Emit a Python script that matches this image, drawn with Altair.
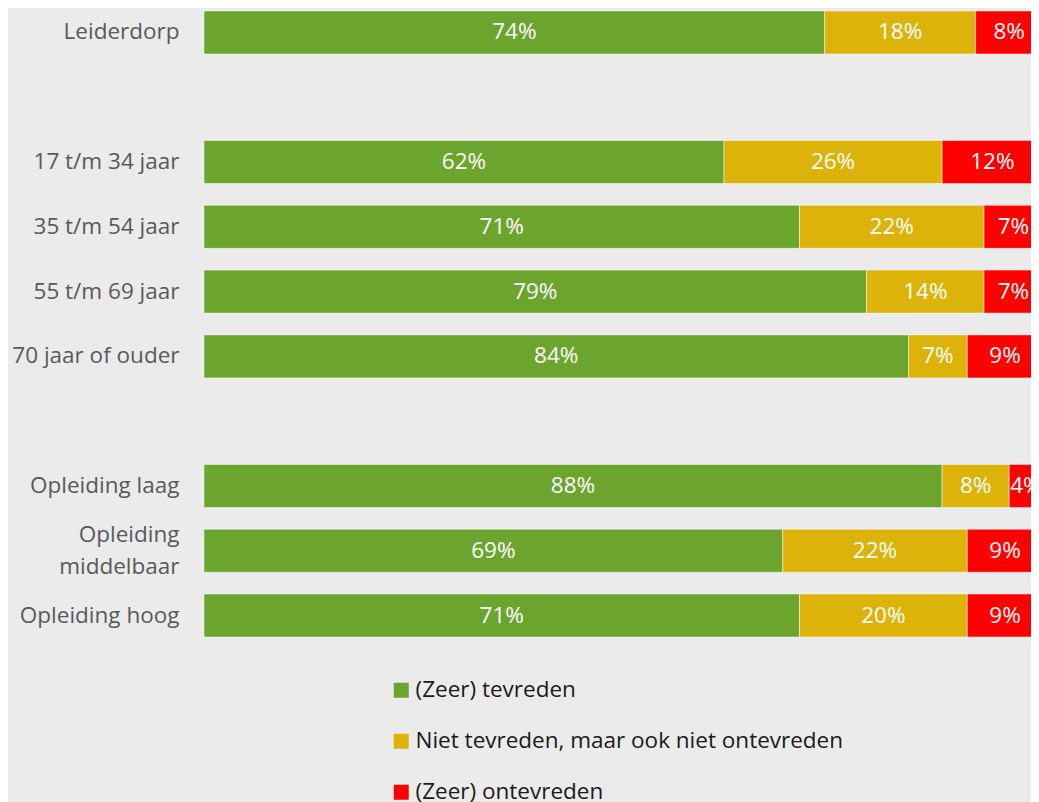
import altair as alt
import pandas as pd

groups = ["Leiderdorp", "17 t/m 34 jaar", "35 t/m 54 jaar", "55 t/m 69 jaar",
          "70 jaar of ouder", "Opleiding laag", "Opleiding middelbaar", "Opleiding hoog"]
row_order = ["Leiderdorp", " ", "17 t/m 34 jaar", "35 t/m 54 jaar", "55 t/m 69 jaar",
             "70 jaar of ouder", "  ", "Opleiding laag", "Opleiding middelbaar", "Opleiding hoog"]
series = ["(Zeer) tevreden", "Niet tevreden, maar ook niet ontevreden", "(Zeer) ontevreden"]
tevreden = [74, 62, 71, 79, 84, 88, 69, 71]
neutraal = [18, 26, 22, 14, 7, 8, 22, 20]
ontevreden = [8, 12, 7, 7, 9, 4, 9, 9]
colors = ["#6BA52D", "#DDB30A", "#FF0000"]

rows = []
for i, g in enumerate(groups):
    for k, (s, vals) in enumerate(zip(series, [tevreden, neutraal, ontevreden])):
        rows.append({"groep": g, "serie": s, "volgorde": k, "waarde": vals[i]})
df = pd.DataFrame(rows)

FONT = "Open Sans"
FS = 22.5

base = alt.Chart(df).transform_stack(
    stack="waarde", as_=["x0", "x1"], groupby=["groep"],
    sort=[alt.SortField("volgorde", order="ascending")]
).transform_calculate(
    mid="(datum.x0 + datum.x1) / 2",
    label="datum.waarde + '%'"
)

xscale = alt.Scale(domain=[0, 98.6], nice=False, zero=True)
yscale = alt.Scale(domain=row_order, paddingInner=0.336, paddingOuter=0.046)

yaxis = alt.Axis(
    domain=False, ticks=False, grid=False, labelPadding=25,
    labelFontSize=FS, labelFont=FONT, labelColor="#595959", labelLimit=0,
    labelLineHeight=32,
    labelOffset={"condition": {"test": "datum.value == 'Opleiding middelbaar'", "value": -16}, "value": 0},
    labelExpr="datum.value == 'Opleiding middelbaar' ? ['Opleiding', 'middelbaar'] : datum.label",
)

bars = base.mark_bar(clip=True, stroke="white", strokeWidth=0.8, strokeOpacity=0.6).encode(
    x=alt.X("x0:Q", scale=xscale, axis=None),
    x2="x1:Q",
    y=alt.Y("groep:N", scale=yscale, axis=yaxis, title=None),
    color=alt.Color(
        "serie:N",
        scale=alt.Scale(domain=series, range=colors),
        legend=alt.Legend(
            title=None, orient="none", legendX=186, legendY=671, direction="vertical",
            symbolType="square", symbolSize=225, symbolStrokeWidth=0,
            labelFontSize=FS, labelFont=FONT, labelColor="#1a1a1a", labelLimit=0,
            rowPadding=28, labelOffset=3,
        ),
    ),
)

texts = base.mark_text(clip=True, color="white", fontSize=FS, font=FONT).encode(
    x=alt.X("mid:Q", scale=xscale, axis=None),
    y=alt.Y("groep:N", scale=yscale, axis=yaxis, title=None),
    text="label:N",
)

chart = alt.layer(bars, texts).properties(
    width=827, height=632,
    padding={"left": 196, "top": 0, "right": 0, "bottom": 162},
    autosize="none",
    background="#EBEBEB",
).configure_view(stroke=None)

chart.save("out.html", embed_options={"renderer": "svg", "actions": False})
